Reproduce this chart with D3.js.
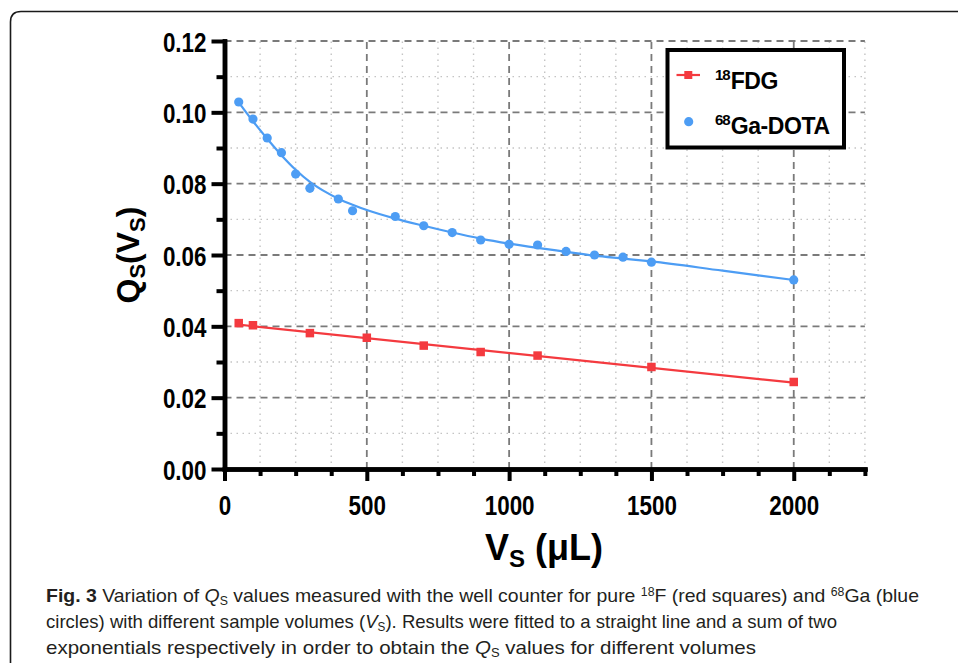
<!DOCTYPE html>
<html><head><meta charset="utf-8">
<script src="https://cdn.jsdelivr.net/npm/d3@7"></script>
<style>
html,body{margin:0;padding:0;background:#fff;}
svg{display:block;}
</style></head>
<body>
<svg id="chart" width="958" height="663"></svg>
<script>
// ---- data ----
const fdgVolumes = [50, 100, 300, 500, 700, 900, 1100, 1500, 2000];
const fdgQs      = [0.0409, 0.0403, 0.0381, 0.0368, 0.0346, 0.0328, 0.0318, 0.0286, 0.0244];

const gaVolumes = [50, 100, 150, 200, 250, 300, 400, 450, 600, 700, 800, 900, 1000, 1100, 1200, 1300, 1400, 1500, 2000];
const gaQs      = [0.1029, 0.0981, 0.0928, 0.0887, 0.0827, 0.0787, 0.0757, 0.0724, 0.0708, 0.0682, 0.0663, 0.0642, 0.0630, 0.0628, 0.0610, 0.0600, 0.0594, 0.0580, 0.0530];

// fitted two-exponential curve for 68Ga
const gaFitVolumes = [50, 100, 150, 200, 250, 300, 350, 400, 450, 500, 600, 700, 800, 900, 1000, 1100, 1200, 1300, 1400, 1500, 1750, 2000];
const gaFitQs      = [0.1028, 0.0975, 0.0926, 0.0880, 0.0839, 0.0805, 0.0779, 0.0758, 0.0741, 0.0726, 0.0702, 0.0682, 0.0663, 0.0646, 0.0632, 0.0620, 0.0609, 0.0598, 0.0590, 0.0582, 0.0556, 0.0530];

const xMajorTicks = [0, 500, 1000, 1500, 2000];
const xMinorTicks = [125, 250, 375, 625, 750, 875, 1125, 1250, 1375, 1625, 1750, 1875, 2125, 2250];
const yMajorTicks = [0, 0.02, 0.04, 0.06, 0.08, 0.10, 0.12];
const yMinorTicks = [0.01, 0.03, 0.05, 0.07, 0.09, 0.11];

const seriesNames = ["FDG", "Ga-DOTA"];
const seriesSups  = ["18", "68"];
const colors = {red: "#f43a3f", blue: "#4d9df4"};

// ---- setup ----
const svg = d3.select("#chart");
const x = d3.scaleLinear().domain([0, 2250]).range([224.5, 864.9]);
const y = d3.scaleLinear().domain([0, 0.12]).range([469, 41]);

function condense(sel, k) {
  sel.each(function () {
    const len = this.getComputedTextLength();
    d3.select(this).attr("textLength", len * k).attr("lengthAdjust", "spacingAndGlyphs");
  });
}

// outer frame
svg.append("path")
  .attr("d", "M10.5,663 V22 Q10.5,11.5 21,11.5 H960")
  .attr("fill", "none").attr("stroke", "#1a1a1a").attr("stroke-width", 1.6);

// ---- grid ----
const grid = svg.append("g");
grid.selectAll(".vmin").data(xMinorTicks).join("line")
  .attr("x1", d => x(d)).attr("x2", d => x(d)).attr("y1", y(0)).attr("y2", y(0.12))
  .attr("stroke", "#c4c4c4").attr("stroke-width", 1.4).attr("stroke-dasharray", "1.5,4.5");
grid.selectAll(".hmin").data(yMinorTicks).join("line")
  .attr("x1", x(0)).attr("x2", x(2250)).attr("y1", d => y(d)).attr("y2", d => y(d))
  .attr("stroke", "#c4c4c4").attr("stroke-width", 1.4).attr("stroke-dasharray", "1.5,4.5");
grid.selectAll(".vmaj").data(xMajorTicks.filter(d => d > 0)).join("line")
  .attr("x1", d => x(d)).attr("x2", d => x(d)).attr("y1", y(0)).attr("y2", y(0.12))
  .attr("stroke", "#7a7a7a").attr("stroke-width", 1.8).attr("stroke-dasharray", "7,5");
grid.selectAll(".hmaj").data(yMajorTicks.filter(d => d > 0)).join("line")
  .attr("x1", x(0)).attr("x2", x(2250)).attr("y1", d => y(d)).attr("y2", d => y(d))
  .attr("stroke", "#7a7a7a").attr("stroke-width", 1.8).attr("stroke-dasharray", "7,5");

// ---- axes ----
const tickFont = "'Liberation Sans',Arial,sans-serif";
const xAxisMajor = svg.append("g").attr("transform", `translate(0,${y(0)})`)
  .call(d3.axisBottom(x).tickValues(xMajorTicks).tickSize(12).tickSizeOuter(0).tickPadding(14)
    .tickFormat(d3.format("d")));
const xAxisMinor = svg.append("g").attr("transform", `translate(0,${y(0)})`)
  .call(d3.axisBottom(x).tickValues(xMinorTicks).tickSize(7).tickSizeOuter(0).tickFormat(""));
const yAxisMajor = svg.append("g").attr("transform", `translate(${x(0)},0)`)
  .call(d3.axisLeft(y).tickValues(yMajorTicks).tickSize(13).tickSizeOuter(0).tickPadding(5)
    .tickFormat(d3.format(".2f")));
const yAxisMinor = svg.append("g").attr("transform", `translate(${x(0)},0)`)
  .call(d3.axisLeft(y).tickValues(yMinorTicks).tickSize(8).tickSizeOuter(0).tickFormat(""));

[xAxisMajor, xAxisMinor, yAxisMajor, yAxisMinor].forEach(g => {
  g.selectAll(".domain").attr("stroke", "#000").attr("stroke-width", 4.5).attr("stroke-linecap", "square");
  g.selectAll(".tick line").attr("stroke", "#000").attr("stroke-width", 4);
  g.selectAll(".tick text").attr("fill", "#000")
    .style("font-family", tickFont).style("font-weight", "bold").style("font-size", "28px");
});
yAxisMajor.selectAll(".tick text").attr("dy", "0.36em");
xAxisMajor.selectAll(".tick text").attr("dy", "0.7em");
condense(yAxisMajor.selectAll(".tick text"), 0.8);
condense(xAxisMajor.selectAll(".tick text"), 0.8);

// ---- axis titles ----
const titleFont = "'Liberation Sans',Arial,sans-serif";
const yt = svg.append("text")
  .attr("transform", `translate(139,255) rotate(-90)`)
  .attr("text-anchor", "middle")
  .style("font-family", titleFont).style("font-weight", "bold").style("font-size", "32px");
yt.append("tspan").text("Q");
yt.append("tspan").text("S").style("font-size", "22px").attr("dy", 6);
yt.append("tspan").text("(V").attr("dy", -6);
yt.append("tspan").text("S").style("font-size", "22px").attr("dy", 6);
yt.append("tspan").text(")").attr("dy", -6);

const xt = svg.append("text")
  .attr("x", 485).attr("y", 560)
  .style("font-family", titleFont).style("font-weight", "bold").style("font-size", "36px");
xt.append("tspan").text("V");
xt.append("tspan").text("S").style("font-size", "24px").attr("dy", 7);
xt.append("tspan").text("\u00a0(\u03bcL)").attr("dy", -7);

// ---- series ----
// red: least-squares straight line through the FDG points
const fdgPts = fdgVolumes.map((v, i) => [v, fdgQs[i]]);
const mx = d3.mean(fdgVolumes), my = d3.mean(fdgQs);
const slope = d3.sum(fdgPts, p => (p[0] - mx) * (p[1] - my)) / d3.sum(fdgPts, p => (p[0] - mx) ** 2);
const icpt = my - slope * mx;
const fdgExtent = d3.extent(fdgVolumes);
svg.append("line")
  .attr("x1", x(fdgExtent[0])).attr("y1", y(icpt + slope * fdgExtent[0]))
  .attr("x2", x(fdgExtent[1])).attr("y2", y(icpt + slope * fdgExtent[1]))
  .attr("stroke", colors.red).attr("stroke-width", 2.2);

const gaFit = gaFitVolumes.map((v, i) => [v, gaFitQs[i]]);
svg.append("path").datum(gaFit)
  .attr("d", d3.line().x(d => x(d[0])).y(d => y(d[1])).curve(d3.curveMonotoneX))
  .attr("fill", "none").attr("stroke", colors.blue).attr("stroke-width", 2.2);

const sq = 8.5;
svg.selectAll(".fdg").data(fdgPts).join("rect")
  .attr("x", d => x(d[0]) - sq / 2).attr("y", d => y(d[1]) - sq / 2)
  .attr("width", sq).attr("height", sq).attr("fill", colors.red);

svg.selectAll(".ga").data(gaVolumes.map((v, i) => [v, gaQs[i]])).join("circle")
  .attr("cx", d => x(d[0])).attr("cy", d => y(d[1])).attr("r", 4.6).attr("fill", colors.blue);

// ---- legend ----
const lg = svg.append("g");
lg.append("rect").attr("x", 667.5).attr("y", 50).attr("width", 176.5).attr("height", 97.5)
  .attr("fill", "#fff").attr("stroke", "#000").attr("stroke-width", 4);
lg.append("line").attr("x1", 676.5).attr("x2", 700).attr("y1", 75).attr("y2", 75)
  .attr("stroke", colors.red).attr("stroke-width", 2.2);
lg.append("rect").attr("x", 688.3 - 4).attr("y", 75 - 4).attr("width", 8).attr("height", 8).attr("fill", colors.red);
lg.append("circle").attr("cx", 688.7).attr("cy", 121.7).attr("r", 4.6).attr("fill", colors.blue);
[88.5, 133.5].forEach((by, i) => {
  const t = lg.append("text").attr("x", 715).attr("y", by)
    .style("font-family", titleFont).style("font-weight", "bold").style("font-size", "23px")
    .style("letter-spacing", "-0.4px");
  t.append("tspan").text(seriesSups[i]).style("font-size", "15px").attr("dy", -9).style("letter-spacing", "-1px");
  t.append("tspan").text(seriesNames[i]).attr("dy", 9).attr("dx", 1);
});

// ---- caption ----
const capFont = "'Liberation Sans',Arial,sans-serif";
const capLines = [
  {y: 602, len: 873, parts: [
    {t: "Fig. 3", b: true}, {t: " Variation of "}, {t: "Q", i: true}, {t: "S", sub: true},
    {t: " values measured with the well counter for pure "}, {t: "18", sup: true},
    {t: "F (red squares) and "}, {t: "68", sup: true}, {t: "Ga (blue"}]},
  {y: 628, len: 791, parts: [
    {t: "circles) with different sample volumes ("}, {t: "V", i: true}, {t: "S", sub: true},
    {t: "). Results were fitted to a straight line and a sum of two"}]},
  {y: 654, len: 710, parts: [
    {t: "exponentials respectively in order to obtain the "}, {t: "Q", i: true}, {t: "S", sub: true},
    {t: " values for different volumes"}]}
];
capLines.forEach(line => {
  const t = svg.append("text").attr("x", 46).attr("y", line.y)
    .attr("textLength", line.len).attr("lengthAdjust", "spacingAndGlyphs")
    .style("font-family", capFont).style("font-size", "19px").attr("fill", "#231f20");
  let shift = 0;
  line.parts.forEach(p => {
    const target = p.sub ? 3 : p.sup ? -6 : 0;
    const ts = t.append("tspan").text(p.t).attr("dy", target - shift);
    shift = target;
    if (p.b) ts.style("font-weight", "bold");
    if (p.i) ts.style("font-style", "italic");
    if (p.sub || p.sup) ts.style("font-size", "12px");
  });
});
</script>
</body></html>
